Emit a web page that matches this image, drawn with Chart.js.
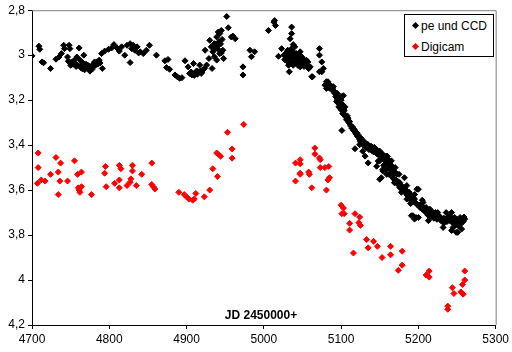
<!DOCTYPE html>
<html>
<head>
<meta charset="utf-8">
<script src="https://cdn.jsdelivr.net/npm/chart.js"></script>
<style>
  html, body { margin: 0; padding: 0; background: #fff; }
  #wrap { position: relative; width: 512px; height: 352px; }
  #title {
    position: absolute; left: 0; width: 522px; top: 308px; text-align: center;
    font: bold 12px "Liberation Sans", Arial, sans-serif; color: #000;
  }
  #legend {
    position: absolute; left: 404px; top: 14px; width: 88px; height: 41px;
    border: 1px solid #000; background: #fff;
    font: 12px "Liberation Sans", Arial, sans-serif; color: #000;
  }
  #legend .row { position: absolute; left: 16px; white-space: nowrap; }
  #legend .mk {
    position: absolute; left: -8px; top: 4px; width: 5px; height: 5px;
    transform: rotate(45deg);
  }
</style>
</head>
<body>
<div id="wrap">
  <canvas id="lightCurve"></canvas>
  <div id="title">JD 2450000+</div>
  <div id="legend">
    <div class="row" style="top:4px"><span class="mk" style="background:#000"></span>pe und CCD</div>
    <div class="row" style="top:25px"><span class="mk" style="background:#ff0000"></span>Digicam</div>
  </div>
</div>
<script>
const xTicks = [4700, 4800, 4900, 5000, 5100, 5200, 5300];
const yTicks = [2.8, 3.0, 3.2, 3.4, 3.6, 3.8, 4.0, 4.2];

// pe und CCD (black)
const peJD = [
  4700, 4709, 4710, 4713, 4715, 4724, 4731, 4735, 4738, 4741, 4748, 4742, 4749, 4746, 4747, 4751,
  4753, 4756, 4758, 4761, 4762, 4764, 4766, 4767, 4769, 4770, 4772, 4773, 4775, 4777, 4778, 4780,
  4782, 4784, 4787, 4791, 4790, 4794, 4799, 4803, 4806, 4810, 4813, 4816, 4820, 4827, 4823, 4827,
  4829, 4831, 4833, 4836, 4838, 4840, 4844, 4848, 4852, 4861,
  4872, 4876, 4874, 4878, 4885, 4888, 4891, 4894, 4898, 4902, 4904, 4907, 4909, 4911, 4913, 4915,
  4917, 4919, 4921, 4923, 4924, 4926, 4929, 4933, 4930, 4932, 4934, 4936, 4936, 4937, 4939, 4939,
  4940, 4941, 4942, 4943, 4943, 4945, 4946, 4947, 4948, 4952, 4954, 4958, 4960, 4963, 4973, 4973,
  4982, 4988, 4984,
  5006, 5013, 5015, 5014, 5023, 5019, 5036, 5036, 5034, 5038, 5028, 5031, 5034, 5036, 5038, 5040,
  5042, 5044, 5036, 5031, 5029, 5040, 5047, 5049, 5051, 5053, 5055, 5047, 5033, 5060, 5062, 5057,
  5072, 5072, 5075, 5077, 5072, 5063, 5075, 5081, 5085,
  5079, 5083, 5088, 5081, 5090, 5094, 5100, 5103, 5094, 5098, 5100, 5105, 5107, 5111, 5101, 5113,
  5118, 5122, 5124, 5128, 5118, 5128, 5131, 5133, 5139, 5144, 5148, 5152, 5135, 5146, 5156, 5161,
  5165, 5085, 5092, 5096, 5102, 5103, 5108, 5110, 5115, 5117, 5120, 5126, 5130, 5134, 5137, 5141,
  5124, 5129, 5133, 5137, 5141, 5146, 5150, 5154, 5159, 5148, 5154, 5150, 5159, 5163, 5167, 5169,
  5174, 5176, 5180, 5182, 5185, 5189, 5191, 5198, 5198, 5202, 5191, 5195, 5200, 5210, 5213, 5215,
  5219, 5223, 5228, 5232, 5236, 5241, 5245, 5249, 5245, 5249, 5254, 5260, 5256, 5232,
  5159, 5163, 5154, 5152, 5167, 5176, 5182, 5187, 5193, 5200, 5206, 5210, 5193, 5197, 5225, 5234,
  5243, 5247, 5251, 5243, 5251, 5157, 5161, 5165, 5170, 5172, 5178, 5184, 5188, 5195, 5204, 5208,
  5214, 5217, 5221, 5226, 5230, 5238, 5240, 5255, 5258,
  5087, 5089, 5091, 5093, 5095, 5097, 5099, 5101, 5104, 5106, 5109, 5112, 5114, 5116, 5119, 5121,
  5123, 5125, 5127, 5129, 5131, 5132, 5135, 5136, 5138, 5140, 5142, 5143, 5145, 5147, 5149, 5151,
  5153, 5155, 5157, 5160, 5162, 5164, 5166, 5168, 5171, 5173, 5175, 5177, 5179, 5181, 5183, 5186,
  5190, 5192, 5194, 5196, 5199, 5203, 5205, 5207, 5209, 5212, 5216, 5218, 5220, 5222, 5224, 5227,
  5229, 5233, 5235, 5237, 5239, 5242, 5244, 5246, 5248, 5250, 5252, 5253, 5257, 5259,
  5026, 5027, 5030, 5032, 5033, 5035, 5037, 5039, 5041, 5043, 5045, 5046, 5048, 5050, 5052, 5054,
  5056, 5058, 5038, 5044,
  4750, 4754, 4757, 4759, 4763, 4765, 4768, 4771, 4774, 4776, 4779, 4781, 4785, 4788,
  4906, 4910, 4914, 4918, 4920, 4938, 4941, 4944, 4945,
  5150, 5155, 5158, 5162, 5168, 5172, 5178, 5185, 5190, 5160, 5165, 5170, 5175, 5185, 5195, 5205,
  5090, 5095, 5100, 5105, 5097, 5102
];
const peMag = [
  3.003, 2.960, 2.974, 3.030, 3.034, 3.059, 3.018, 3.008, 2.993, 2.956, 2.956, 2.971, 2.971, 3.008, 3.027, 3.030,
  3.040, 3.037, 3.008, 2.968, 3.022, 3.044, 3.035, 3.000, 3.052, 3.040, 3.044, 3.060, 3.071, 3.052, 3.062, 3.037,
  3.045, 3.030, 3.022, 3.059, 2.993, 2.982, 2.974, 2.968, 2.953, 2.968, 2.982, 2.963, 3.000, 3.033, 2.956, 2.949,
  2.971, 2.956, 2.978, 2.963, 2.990, 2.985, 2.993, 2.978, 2.956, 3.000,
  3.025, 3.019, 3.055, 3.063, 3.088, 3.096, 3.103, 3.100, 3.025, 3.052, 3.081, 3.088, 3.037, 3.081, 3.070, 3.074,
  3.044, 3.081, 3.066, 3.059, 2.978, 3.044, 3.015, 3.059, 2.934, 2.963, 2.985, 2.949, 3.007, 2.970, 2.919, 3.022,
  2.960, 2.897, 2.940, 2.904, 2.993, 2.890, 2.930, 2.978, 3.015, 2.828, 2.878, 2.919, 2.915, 2.927, 3.052, 3.088,
  2.978, 2.985, 3.007,
  2.890, 2.853, 2.868, 2.846, 2.971, 3.005, 2.875, 2.904, 2.927, 2.953, 2.993, 2.978, 3.000, 2.971, 2.985, 2.963,
  2.993, 3.015, 3.030, 3.030, 3.015, 3.037, 2.985, 3.007, 3.030, 3.044, 3.022, 3.052, 3.074, 3.052, 3.096, 3.030,
  2.971, 3.000, 3.030, 3.059, 3.074, 3.096, 3.074, 3.118, 3.147,
  3.133, 3.118, 3.140, 3.148, 3.162, 3.177, 3.184, 3.180, 3.206, 3.221, 3.243, 3.265, 3.287, 3.295, 3.335, 3.317,
  3.339, 3.354, 3.376, 3.390, 3.416, 3.427, 3.449, 3.405, 3.405, 3.420, 3.427, 3.435, 3.479, 3.494, 3.464, 3.479,
  3.501, 3.130, 3.170, 3.190, 3.220, 3.250, 3.270, 3.300, 3.320, 3.330, 3.345, 3.370, 3.385, 3.395, 3.410, 3.415,
  3.398, 3.390, 3.398, 3.405, 3.412, 3.420, 3.427, 3.442, 3.449, 3.471, 3.508, 3.552, 3.530, 3.530, 3.545, 3.567,
  3.574, 3.589, 3.604, 3.545, 3.619, 3.633, 3.648, 3.596, 3.663, 3.677, 3.714, 3.729, 3.722, 3.700, 3.736, 3.685,
  3.700, 3.714, 3.729, 3.744, 3.700, 3.714, 3.729, 3.744, 3.766, 3.788, 3.722, 3.729, 3.773, 3.766,
  3.457, 3.479, 3.515, 3.545, 3.515, 3.567, 3.589, 3.619, 3.633, 3.596, 3.655, 3.677, 3.714, 3.722, 3.700, 3.744,
  3.700, 3.722, 3.744, 3.780, 3.788, 3.450, 3.465, 3.490, 3.520, 3.530, 3.580, 3.600, 3.610, 3.640, 3.660, 3.680,
  3.700, 3.710, 3.720, 3.715, 3.730, 3.720, 3.735, 3.750, 3.740,
  3.145, 3.150, 3.160, 3.185, 3.195, 3.200, 3.210, 3.230, 3.245, 3.275, 3.280, 3.310, 3.325, 3.335, 3.350, 3.360,
  3.365, 3.385, 3.380, 3.400, 3.395, 3.410, 3.400, 3.420, 3.415, 3.425, 3.430, 3.410, 3.435, 3.440, 3.445, 3.450,
  3.455, 3.460, 3.470, 3.485, 3.500, 3.510, 3.520, 3.530, 3.555, 3.560, 3.575, 3.585, 3.590, 3.600, 3.610, 3.625,
  3.620, 3.640, 3.650, 3.655, 3.665, 3.670, 3.685, 3.690, 3.695, 3.710, 3.720, 3.710, 3.725, 3.700, 3.730, 3.715,
  3.735, 3.725, 3.730, 3.740, 3.725, 3.735, 3.745, 3.740, 3.755, 3.730, 3.760, 3.745, 3.730, 3.720,
  3.000, 3.020, 3.010, 3.045, 2.990, 3.015, 3.000, 3.020, 3.010, 3.030, 3.000, 3.020, 3.035, 3.015, 3.050, 3.035,
  3.045, 3.060, 3.045, 3.045,
  3.045, 3.025, 3.050, 3.045, 3.055, 3.060, 3.065, 3.055, 3.050, 3.060, 3.050, 3.030, 3.040, 3.035,
  3.075, 3.090, 3.085, 3.070, 3.075, 2.950, 2.975, 2.950, 2.990,
  3.470, 3.490, 3.510, 3.530, 3.550, 3.570, 3.610, 3.640, 3.660, 3.450, 3.470, 3.500, 3.530, 3.580, 3.620, 3.645,
  3.140, 3.170, 3.200, 3.230, 3.230, 3.260
];

// Digicam (red)
const digiJD = [
  4708, 4708, 4707, 4712, 4717, 4724, 4731, 4737, 4734, 4736, 4734, 4746, 4755, 4759, 4764, 4760,
  4764, 4761, 4762, 4777, 4795, 4794, 4796, 4807, 4813, 4815, 4813, 4813, 4823, 4827, 4828, 4830,
  4830, 4835, 4842, 4855, 4855, 4857, 4859,
  4974, 4953, 4959, 4959, 4939, 4941, 4944, 4934, 4940, 4890, 4897, 4900, 4903, 4908, 4910, 4912,
  4923, 4930,
  5066, 5066, 5072, 5073, 5047, 5041, 5047, 5058, 5059, 5047, 5047, 5041, 5062, 5073, 5079, 5084,
  5085, 5083, 5081, 5100, 5103, 5101, 5104, 5118, 5111, 5111, 5124, 5123, 5125, 5116, 5133, 5135,
  5142, 5147, 5153, 5164, 5164, 5179, 5179, 5174, 5214, 5210, 5214, 5238, 5238, 5244, 5246, 5260,
  5260, 5257, 5255, 5258
];
const digiMag = [
  3.435, 3.500, 3.570, 3.555, 3.560, 3.530, 3.455, 3.480, 3.520, 3.560, 3.620, 3.560, 3.470, 3.530, 3.520, 3.590,
  3.585, 3.600, 3.610, 3.620, 3.495, 3.525, 3.585, 3.570, 3.490, 3.505, 3.555, 3.590, 3.580, 3.565, 3.550, 3.490,
  3.515, 3.580, 3.530, 3.480, 3.575, 3.585, 3.595,
  3.308, 3.343, 3.417, 3.458, 3.435, 3.440, 3.450, 3.505, 3.540, 3.610, 3.620, 3.630, 3.640, 3.645, 3.640, 3.615,
  3.630, 3.600,
  3.413, 3.440, 3.457, 3.465, 3.465, 3.480, 3.483, 3.520, 3.530, 3.525, 3.530, 3.560, 3.590, 3.500, 3.500, 3.495,
  3.545, 3.555, 3.600, 3.667, 3.680, 3.705, 3.705, 3.705, 3.748, 3.778, 3.720, 3.745, 3.757, 3.880, 3.820, 3.857,
  3.828, 3.850, 3.900, 3.850, 3.888, 3.872, 3.934, 3.957, 3.960, 3.978, 3.987, 4.116, 4.130, 4.034, 4.060, 3.960,
  4.000, 4.020, 4.053, 4.063
];

const toPoints = (xs, ys) => xs.map((x, i) => ({ x, y: ys[i] }));

const frame = {
  id: "frame",
  beforeDatasetsDraw(chart) {
    const { ctx, chartArea: a } = chart;
    ctx.save();
    ctx.strokeStyle = "#808080";
    ctx.lineWidth = 1;
    ctx.beginPath();
    ctx.moveTo(a.left, a.top + 0.5);
    ctx.lineTo(a.right + 0.5, a.top + 0.5);
    ctx.lineTo(a.right + 0.5, a.bottom);
    ctx.stroke();
    ctx.restore();
  },
};

const tickFont = { family: "'Liberation Sans', Arial, sans-serif", size: 12 };

new Chart(document.getElementById("lightCurve"), {
  type: "scatter",
  data: {
    datasets: [
      {
        label: "pe und CCD",
        data: toPoints(peJD, peMag),
        pointStyle: "rectRot",
        radius: 3,
        borderWidth: 1,
        backgroundColor: "#000000",
        borderColor: "#000000",
      },
      {
        label: "Digicam",
        data: toPoints(digiJD, digiMag),
        pointStyle: "rectRot",
        radius: 3,
        borderWidth: 1,
        backgroundColor: "#ff0000",
        borderColor: "#ff0000",
      },
    ],
  },
  options: {
    responsive: true,
    maintainAspectRatio: false,
    animation: false,
    events: [],
    layout: { padding: { top: 8, right: 16, left: 0, bottom: 0 } },
    plugins: { legend: { display: false }, tooltip: { enabled: false } },
    scales: {
      x: {
        type: "linear",
        min: 4700,
        max: 5300,
        afterBuildTicks: (scale) => { scale.ticks = xTicks.map((v) => ({ value: v })); },
        afterFit: (scale) => { scale.height = 27; },
        grid: { drawOnChartArea: false, drawTicks: true, tickLength: 4, color: "#000" },
        border: { color: "#000" },
        ticks: {
          color: "#000",
          font: tickFont,
          padding: 3,
          maxRotation: 0,
          autoSkip: false,
          callback: (v) => String(v),
        },
      },
      y: {
        type: "linear",
        reverse: true,
        min: 2.8,
        max: 4.2,
        afterBuildTicks: (scale) => { scale.ticks = yTicks.map((v) => ({ value: v })); },
        afterFit: (scale) => { scale.width = 32; },
        grid: { drawOnChartArea: false, drawTicks: true, tickLength: 4, color: "#000" },
        border: { color: "#000" },
        ticks: {
          color: "#000",
          font: tickFont,
          padding: 3,
          autoSkip: false,
          callback: (v) => String(Math.round(v * 10) / 10).replace(".", ","),
        },
      },
    },
  },
  plugins: [frame],
});
</script>
</body>
</html>
